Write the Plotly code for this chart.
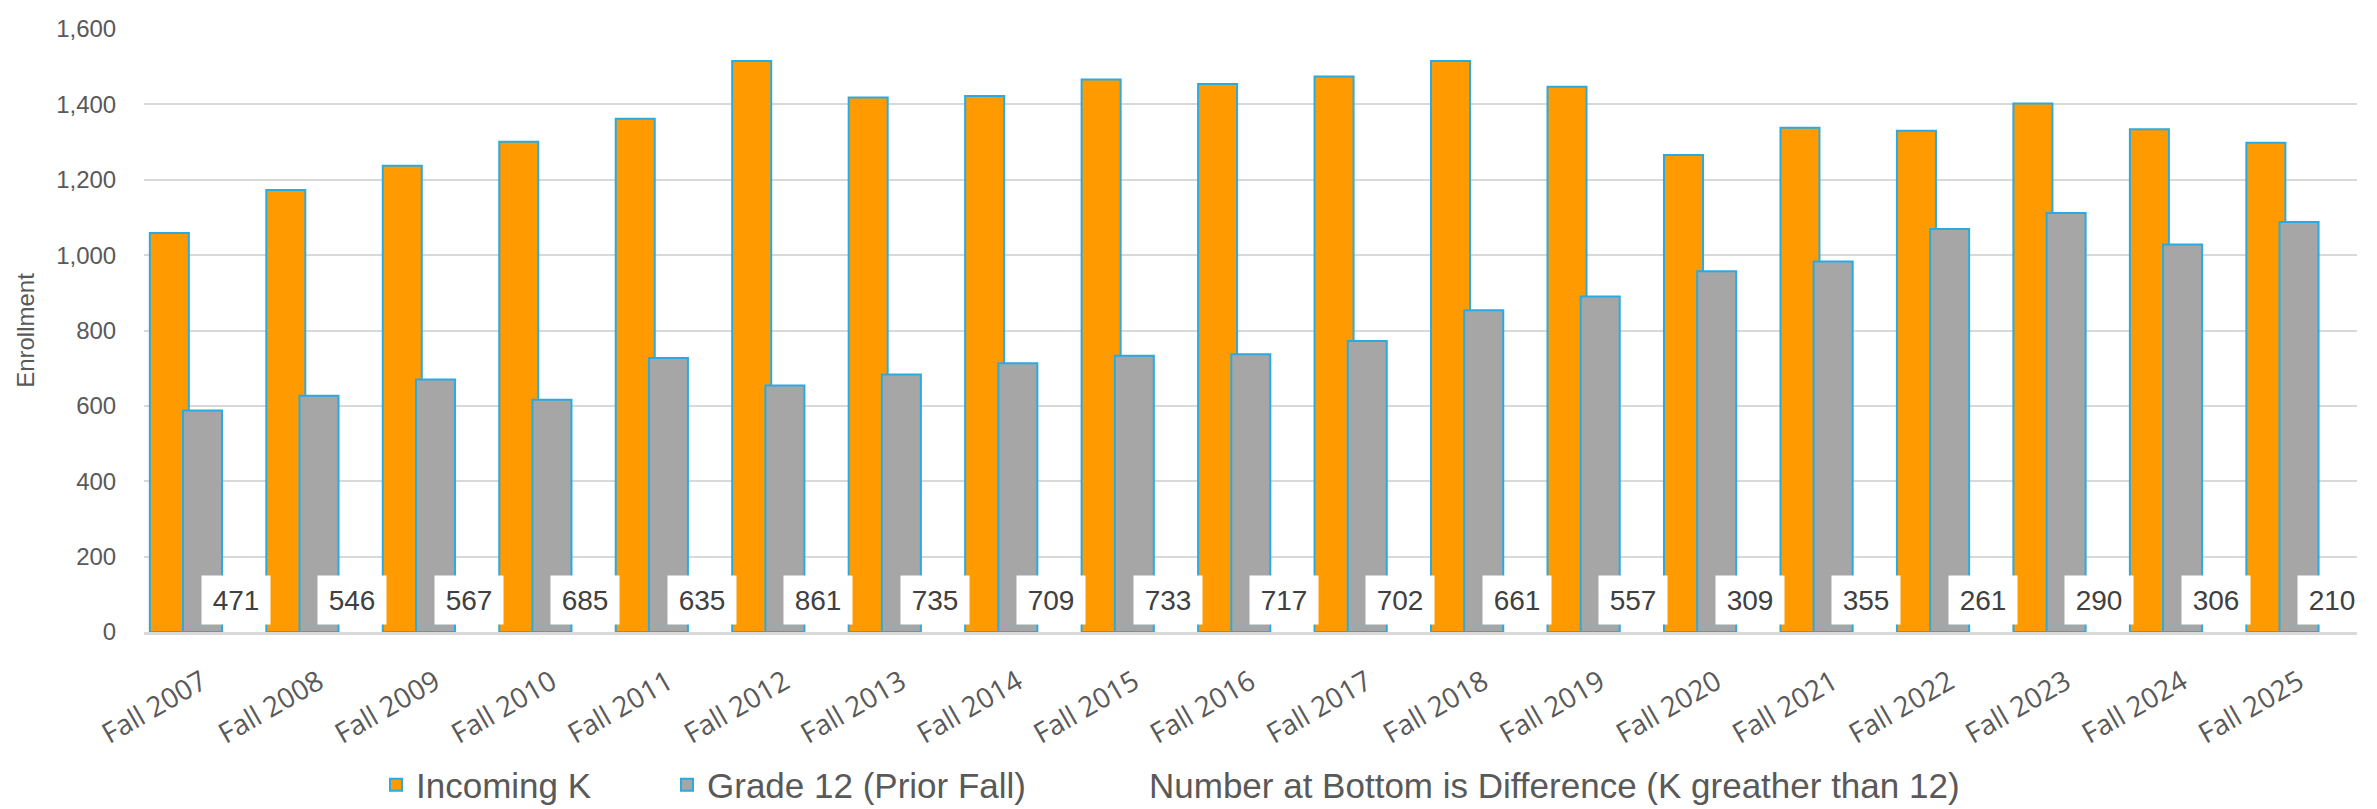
import plotly.graph_objects as go

categories = ["Fall 2007", "Fall 2008", "Fall 2009", "Fall 2010", "Fall 2011", "Fall 2012",
              "Fall 2013", "Fall 2014", "Fall 2015", "Fall 2016", "Fall 2017", "Fall 2018",
              "Fall 2019", "Fall 2020", "Fall 2021", "Fall 2022", "Fall 2023", "Fall 2024",
              "Fall 2025"]
incoming_k = [1059, 1173, 1237, 1301, 1362, 1515, 1418, 1422, 1466, 1454, 1474, 1515,
              1447, 1266, 1338, 1330, 1402, 1334, 1298]
grade12_prior = [588, 627, 670, 616, 727, 654, 683, 713, 733, 737, 772, 854,
                 890, 957, 983, 1069, 1112, 1028, 1088]
difference = [471, 546, 567, 685, 635, 861, 735, 709, 733, 717, 702, 661,
              557, 309, 355, 261, 290, 306, 210]

ORANGE = "#FF9A00"
GRAY = "#A6A6A6"
EDGE = "#29ABE2"
TXT = "#595959"
BAR_W = 0.335
OFFS = [-0.45, -0.165, 0.12]

fig = go.Figure()
fig.add_trace(go.Bar(x=categories, y=incoming_k, name="Incoming K", width=BAR_W, offset=OFFS[0],
                     marker=dict(color=ORANGE, line=dict(color=EDGE, width=2)), legend="legend"))
fig.add_trace(go.Bar(x=categories, y=grade12_prior, name="Grade 12 (Prior Fall)", width=BAR_W, offset=OFFS[1],
                     marker=dict(color=GRAY, line=dict(color=EDGE, width=2)), legend="legend2"))
fig.add_trace(go.Bar(x=categories, y=difference, name="Number at Bottom is Difference (K greather than 12)",
                     width=BAR_W, offset=OFFS[2],
                     marker=dict(color="rgba(0,0,0,0)", line=dict(color="rgba(0,0,0,0)", width=0)),
                     legend="legend3", hoverinfo="skip"))

annotations = []
for i, d in enumerate(difference):
    annotations.append(dict(x=i + OFFS[2] + BAR_W / 2, y=0, xref="x", yref="y", yanchor="bottom",
                            yshift=7, text=str(d), showarrow=False, bgcolor="white",
                            width=66, height=46, borderpad=1, align="center", valign="middle",
                            font=dict(family="Liberation Sans, Arial", size=28, color="#404040")))

legend_font = dict(family="Liberation Sans, Arial", size=35, color=TXT)
leg_common = dict(orientation="h", xref="container", yref="container", y=1 - 777 / 809,
                  yanchor="middle", xanchor="left", font=legend_font, bgcolor="rgba(0,0,0,0)")

fig.update_layout(
    width=2377, height=809,
    margin=dict(l=136, r=28, t=21, b=185, autoexpand=False),
    paper_bgcolor="white", plot_bgcolor="white",
    barmode="overlay",
    showlegend=True,
    legend=dict(x=368 / 2377, **leg_common),
    legend2=dict(x=659 / 2377, **leg_common),
    legend3=dict(x=1101 / 2377, **leg_common),
    annotations=annotations,
    xaxis=dict(type="category", range=[-0.5, 18.5], tickangle=-30, showgrid=False,
               showline=True, linecolor="#D9D9D9", linewidth=2.5, ticks="outside", ticklen=20,
               tickcolor="rgba(0,0,0,0)",
               tickfont=dict(family="Open Sans, Liberation Sans", size=28, color=TXT)),
    yaxis=dict(range=[0, 1600], dtick=200, tickformat=",", showgrid=True, gridcolor="#D9D9D9",
               gridwidth=2, zeroline=False, ticks="outside", ticklen=22,
               tickcolor="rgba(0,0,0,0)",
               tickfont=dict(family="Liberation Sans, Arial", size=24, color=TXT),
               title=dict(text="Enrollment", standoff=14,
                          font=dict(family="Liberation Sans, Arial", size=24, color=TXT))),
)

fig.write_html("out.html")
